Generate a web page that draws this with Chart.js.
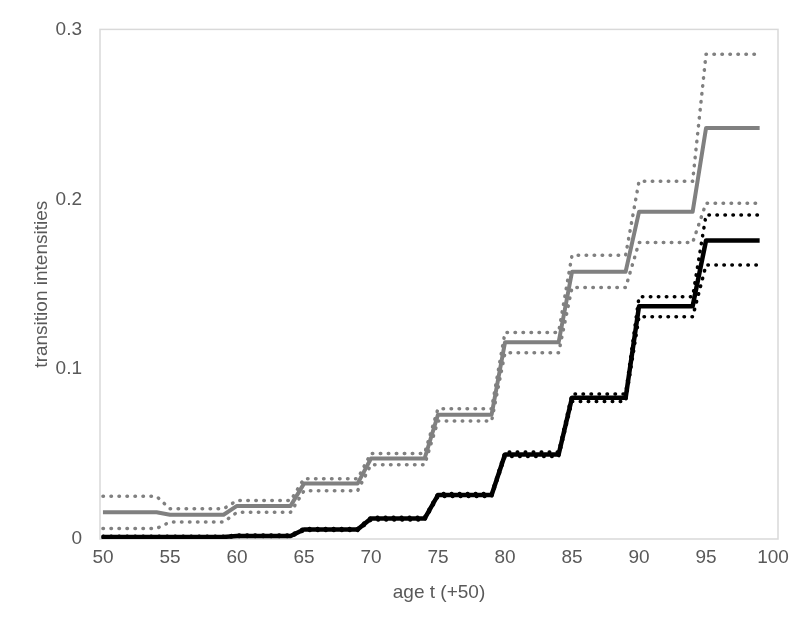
<!DOCTYPE html>
<html>
<head>
<meta charset="utf-8">
<script src="https://cdn.jsdelivr.net/npm/chart.js@4.4.1/dist/chart.umd.min.js"></script>
<style>
  html, body { margin: 0; padding: 0; background: #fff; }
  #contenedor { width: 810px; height: 629px; }
</style>
</head>
<body>
<div id="contenedor"><canvas id="grafico"></canvas></div>
<script>
// Inicio de cada tramo de 5 años (la curva es constante dentro del tramo)
const tramos = [50, 55, 60, 65, 70, 75, 80, 85, 90, 95];
const anchoTramo = 4; // último año del tramo = inicio + 4

// Intensidades
const negroCentral  = [0.0012, 0.0012, 0.0018, 0.0056, 0.0120, 0.0259, 0.0497, 0.0831, 0.1370, 0.1757];
const negroSuperior = [0.0016, 0.0016, 0.0023, 0.0062, 0.0128, 0.0268, 0.0512, 0.0854, 0.1426, 0.1907];
const negroInferior = [0.0009, 0.0009, 0.0014, 0.0050, 0.0112, 0.0250, 0.0485, 0.0810, 0.1308, 0.1613];
const grisCentral   = [0.0158, 0.0143, 0.0195, 0.0326, 0.0474, 0.0732, 0.1158, 0.1573, 0.1926, 0.2419];
const grisSuperior  = [0.0251, 0.0178, 0.0226, 0.0355, 0.0504, 0.0767, 0.1216, 0.1670, 0.2106, 0.2854];
const grisInferior  = [0.0062, 0.0100, 0.0157, 0.0284, 0.0437, 0.0694, 0.1096, 0.1480, 0.1745, 0.1977];

// Etiquetas de los ejes
const ticksX = [50, 55, 60, 65, 70, 75, 80, 85, 90, 95, 100];
const ticksY = [0, 0.1, 0.2, 0.3];

const colorTexto = '#595959';
const fuente = { family: "'Liberation Sans', Arial, sans-serif", size: 19 };

// Convierte valores por tramo en puntos (inicio y fin de cada tramo)
function puntosEscalon(valores) {
  const puntos = [];
  tramos.forEach((inicio, i) => {
    puntos.push({ x: inicio, y: valores[i] });
    puntos.push({ x: inicio + anchoTramo, y: valores[i] });
  });
  return puntos;
}

function serie(valores, color, ancho, punteada) {
  return {
    data: puntosEscalon(valores),
    borderColor: color,
    borderWidth: ancho,
    borderDash: punteada ? [0.5, 7.5] : [],
    borderCapStyle: punteada ? 'round' : 'butt',
    borderJoinStyle: 'round',
    pointRadius: 0,
    tension: 0,
    fill: false
  };
}

// Marco del área de trazado
const marcoPlugin = {
  id: 'marco',
  beforeDatasetsDraw(chart) {
    const { ctx, chartArea } = chart;
    ctx.save();
    ctx.strokeStyle = '#d9d9d9';
    ctx.lineWidth = 1.5;
    ctx.strokeRect(chartArea.left, chartArea.top, chartArea.right - chartArea.left, chartArea.bottom - chartArea.top);
    ctx.restore();
  }
};

const ctx = document.getElementById('grafico').getContext('2d');
new Chart(ctx, {
  type: 'line',
  data: {
    datasets: [
      serie(negroSuperior, '#000000', 3.5, true),
      serie(negroInferior, '#000000', 3.5, true),
      serie(negroCentral, '#000000', 4.5, false),
      serie(grisSuperior, '#808080', 3.5, true),
      serie(grisInferior, '#808080', 3.5, true),
      serie(grisCentral, '#808080', 4, false)
    ]
  },
  options: {
    responsive: true,
    maintainAspectRatio: false,
    animation: false,
    layout: { padding: { top: 22, right: 32, bottom: 0, left: 0 } },
    plugins: {
      legend: { display: false },
      tooltip: { enabled: false }
    },
    scales: {
      x: {
        type: 'linear',
        min: 49.78,
        max: 100.37,
        afterBuildTicks: scale => { scale.ticks = ticksX.map(v => ({ value: v })); },
        afterFit: scale => { scale.height = 90; },
        grid: { display: false, drawTicks: false },
        border: { display: false },
        ticks: { color: colorTexto, font: fuente, padding: 7, maxRotation: 0, callback: v => String(v) },
        title: { display: true, text: 'age t (+50)', color: colorTexto, font: fuente, padding: { top: 25, bottom: 25 } }
      },
      y: {
        min: 0,
        max: 0.3,
        afterBuildTicks: scale => { scale.ticks = ticksY.map(v => ({ value: v })); },
        afterFit: scale => { scale.width = 100; },
        grid: { display: false, drawTicks: false },
        border: { display: false },
        ticks: { color: colorTexto, font: fuente, padding: 18, callback: v => String(v) },
        title: { display: true, text: 'transition intensities', color: colorTexto, font: fuente, padding: { top: 30, bottom: 30 } }
      }
    }
  },
  plugins: [marcoPlugin]
});
</script>
</body>
</html>
